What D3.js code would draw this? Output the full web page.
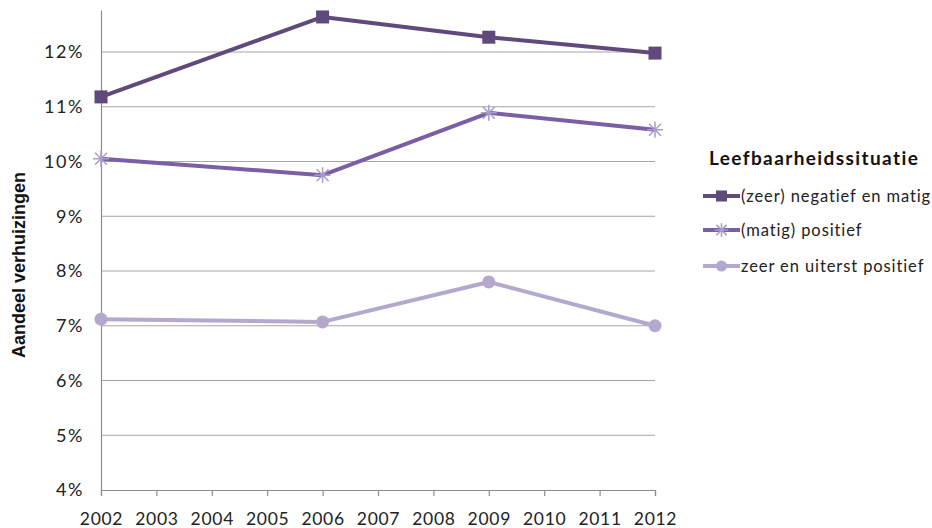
<!DOCTYPE html>
<html><head><meta charset="utf-8">
<script src="https://cdn.jsdelivr.net/npm/d3@7"></script>
<style>body{margin:0;background:#fff}svg{display:block}</style>
</head><body><svg id="c" width="932" height="528"></svg>
<script>
const years = [2002, 2006, 2009, 2012];
const tickYears = [2002,2003,2004,2005,2006,2007,2008,2009,2010,2011,2012];
const yTicks = [4,5,6,7,8,9,10,11,12];
const seriesNames = ["(zeer) negatief en matig", "(matig) positief", "zeer en uiterst positief"];
const negatief = [11.18, 12.64, 12.27, 11.98];
const matigPositief = [10.05, 9.75, 10.89, 10.58];
const zeerPositief = [7.12, 7.07, 7.80, 7.00];
const legendTitle = "Leefbaarheidssituatie";
const yTitle = "Aandeel verhuizingen";

const colors = ["#604a7b", "#7a5ea6", "#b4a9cd"];
const markerTypes = ["square", "star", "circle"];
const allSeries = [negatief, matigPositief, zeerPositief];

const svg = d3.select("#c");
const font = "Lato, 'Open Sans', sans-serif";
const x = d3.scaleLinear().domain([2002, 2012]).range([101, 655]);
const y = d3.scaleLinear().domain([4, 12.767]).range([490, 10]);

// gridlines
svg.append("g").selectAll("line").data(yTicks.filter(d=>d>4)).join("line")
  .attr("x1", 101).attr("x2", 655).attr("y1", d=>y(d)).attr("y2", d=>y(d))
  .attr("stroke", "#a6a6a6").attr("stroke-width", 1.2);

// y axis
const ya = svg.append("g").attr("transform","translate(101,0)")
  .call(d3.axisLeft(y).tickValues(yTicks).tickSize(0).tickPadding(17).tickFormat(d=>d+"%"));
ya.select(".domain").attr("stroke","#8c8c8c").attr("stroke-width",1.2);
ya.selectAll("text").attr("font-family",font).attr("font-size",18).attr("letter-spacing",1.6).attr("fill","#222");

// x axis
const xa = svg.append("g").attr("transform","translate(0,490)")
  .call(d3.axisBottom(x).tickValues(tickYears).tickSize(6).tickPadding(17).tickFormat(d3.format("d")));
xa.select(".domain").attr("stroke","#8c8c8c").attr("stroke-width",1.2);
xa.selectAll("line").attr("stroke","#8c8c8c").attr("stroke-width",1.2);
xa.selectAll("text").attr("font-family",font).attr("font-size",17.5).attr("letter-spacing",0.7).attr("fill","#222");

// y title
svg.append("text").attr("transform","translate(25,265) rotate(-90)")
  .attr("text-anchor","middle").attr("font-family","'Liberation Sans', Arial, sans-serif").attr("font-weight","bold")
  .attr("font-size",18).attr("fill","#111").text(yTitle);

function drawMarker(g, type, cx, cy, color, big) {
  const s = big ? 1 : 0.85;
  if (type === "square") {
    g.append("rect").attr("x", cx-6.5*s).attr("y", cy-6.5*s).attr("width", 13*s).attr("height", 13*s).attr("fill", color);
  } else if (type === "circle") {
    g.append("circle").attr("cx", cx).attr("cy", cy).attr("r", 6.5*s).attr("fill", color);
  } else {
    const r = 8*s;
    const sc = "#a99cc8";
    [[r,0],[0,r],[r*0.75,r*0.75],[r*0.75,-r*0.75]].forEach(([dx,dy])=>{
      g.append("line").attr("x1",cx-dx).attr("y1",cy-dy).attr("x2",cx+dx).attr("y2",cy+dy)
        .attr("stroke",sc).attr("stroke-width",1.5);
    });
  }
}

const line = d3.line().x((d,i)=>x(years[i])).y(d=>y(d));
allSeries.forEach((vals, si) => {
  const g = svg.append("g");
  g.append("path").datum(vals).attr("d", line).attr("fill","none")
    .attr("stroke", colors[si]).attr("stroke-width", 4).attr("stroke-linejoin","round");
  vals.forEach((v,i)=> drawMarker(g, markerTypes[si], x(years[i]), y(v), colors[si], true));
});

// legend
svg.append("text").attr("x",709).attr("y",165).attr("font-family",font).attr("font-weight","bold")
  .attr("font-size",19).attr("letter-spacing",1.4).attr("fill","#111").text(legendTitle);
const legY = [196, 230, 266];
seriesNames.forEach((n, i) => {
  const g = svg.append("g");
  g.append("line").attr("x1",703).attr("x2",740).attr("y1",legY[i]).attr("y2",legY[i])
    .attr("stroke",colors[i]).attr("stroke-width",4);
  drawMarker(g, markerTypes[i], 721.5, legY[i], colors[i], false);
  g.append("text").attr("x",741).attr("y",legY[i]+6).attr("font-family",font)
    .attr("font-size",16.5).attr("letter-spacing",0.9).attr("fill","#222").text(n);
});
</script></body></html>
